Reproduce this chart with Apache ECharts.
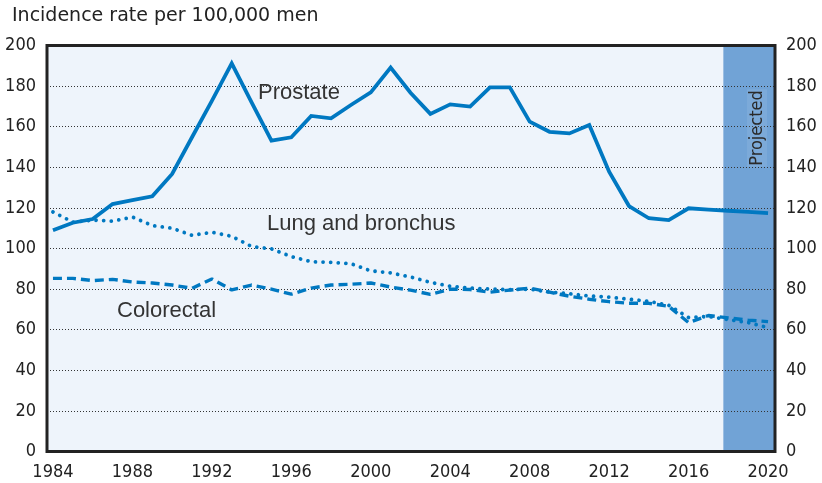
<!doctype html>
<html>
<head>
<meta charset="utf-8">
<title>Incidence rate</title>
<script src="https://cdn.jsdelivr.net/npm/echarts@6/dist/echarts.min.js"></script>
<style>
  html, body { margin: 0; padding: 0; background: #fff; }
  #main { width: 822px; height: 483px; }
</style>
</head>
<body>
<div id="main"></div>
<script>
// years and rates (per 100,000 men)
var years = [1984, 1985, 1986, 1987, 1988, 1989, 1990, 1991, 1992, 1993, 1994, 1995, 1996, 1997, 1998, 1999,
  2000, 2001, 2002, 2003, 2004, 2005, 2006, 2007, 2008, 2009, 2010, 2011, 2012, 2013, 2014, 2015,
  2016, 2017, 2018, 2019, 2020];
var prostate = [109, 112.7, 114.5, 121.9, 123.8, 125.7, 136.7, 154.8, 172.7, 191.2, 172, 153.1, 154.8, 165.3, 164.1, 170.7,
  176.9, 189.1, 176.7, 166.3, 171, 169.9, 179.4, 179.4, 162.5, 157.5, 156.7, 160.8, 137.8, 120.9, 114.9, 114,
  119.8, 119.2, 118.6, 118, 117.4];
var lung = [118, 113, 114, 113.5, 115.5, 111.3, 110, 106.5, 108, 106, 101, 99.8, 96, 93.5, 93.2, 92.5,
  89, 88, 86, 83.3, 81.4, 80.5, 80, 79.7, 80, 78.5, 77.7, 76.6, 76, 75, 74, 72,
  66, 66.5, 65, 63.5, 61];
var colorectal = [85.3, 85.3, 84.2, 84.8, 83.5, 83, 82, 80.4, 85, 79.6, 82, 80, 77.5, 80.5, 82, 82.4,
  83, 81, 79.5, 77.4, 80, 79.8, 78.5, 79.5, 80.5, 78.5, 76.5, 75, 73.8, 73, 73, 71.5,
  63.5, 67, 65.8, 64.7, 64];
var xTicks = [1984, 1988, 1992, 1996, 2000, 2004, 2008, 2012, 2016, 2020];
var projectedFrom = 2017.75;
var xMin = 1983.7, xMax = 2020.35;

function pairs(vals) {
  var out = [];
  for (var i = 0; i < years.length; i++) out.push([years[i], vals[i]]);
  return out;
}

var blue = '#0078c1';
var narrow = "'DejaVu Sans Condensed', sans-serif";
var axisText = { color: '#222', fontSize: 18, fontFamily: narrow };

var myChart = echarts.init(document.getElementById('main'));
var yAxisBase = {
  type: 'value', min: 0, max: 200, interval: 20,
  axisLine: { show: false }, axisTick: { show: false }
};
var option = {
  animation: false,
  backgroundColor: '#fff',
  grid: { left: 47, right: 47, top: 45.5, bottom: 31.5, show: true, backgroundColor: '#eef4fb', borderWidth: 0 },
  xAxis: {
    type: 'value', min: xMin, max: xMax,
    axisLine: { show: false }, axisTick: { show: false }, splitLine: { show: false },
    axisLabel: {
      customValues: xTicks, margin: 12,
      formatter: function (v) { return String(v); },
      color: axisText.color, fontSize: axisText.fontSize, fontFamily: axisText.fontFamily
    }
  },
  yAxis: [
    Object.assign({}, yAxisBase, {
      position: 'left', z: 2,
      axisLabel: { margin: 11, color: axisText.color, fontSize: axisText.fontSize, fontFamily: axisText.fontFamily },
      splitLine: { show: true, lineStyle: { color: '#333', width: 1, type: [1, 2] } }
    }),
    Object.assign({}, yAxisBase, {
      position: 'right',
      axisLabel: { margin: 11, color: axisText.color, fontSize: axisText.fontSize, fontFamily: axisText.fontFamily },
      splitLine: { show: false }
    })
  ],
  series: [
    {
      name: 'Prostate', type: 'line', data: pairs(prostate), z: 3,
      symbol: 'none', lineStyle: { color: blue, width: 3.8, join: 'miter' },
      markArea: {
        silent: true, z: 1,
        itemStyle: { color: '#71a3d6', opacity: 1 },
        data: [[{ xAxis: projectedFrom }, { xAxis: xMax }]]
      }
    },
    {
      name: 'Lung and bronchus', type: 'line', data: pairs(lung), z: 3,
      symbol: 'none', lineStyle: { color: blue, width: 3.8, type: [0.01, 7.6], cap: 'round' }
    },
    {
      name: 'Colorectal', type: 'line', data: pairs(colorectal), z: 3,
      symbol: 'none', lineStyle: { color: blue, width: 3.4, type: [9, 5], cap: 'butt' }
    }
  ],
  graphic: [
    { type: 'rect', z: 100, silent: true,
      shape: { x: 47, y: 45.5, width: 728, height: 406 },
      style: { fill: null, stroke: '#222', lineWidth: 3 } },
    { type: 'text', left: 12, top: 7,
      style: { text: 'Incidence rate per 100,000 men', fill: '#222', font: "19px 'DejaVu Sans', sans-serif" } },
    { type: 'text', x: 258, y: 93, z: 10,
      style: { text: 'Prostate', fill: '#333', font: "22px 'Liberation Sans', sans-serif", verticalAlign: 'middle' } },
    { type: 'text', x: 267, y: 224, z: 10,
      style: { text: 'Lung and bronchus', fill: '#333', font: "22px 'Liberation Sans', sans-serif", verticalAlign: 'middle' } },
    { type: 'text', x: 117, y: 311, z: 10,
      style: { text: 'Colorectal', fill: '#333', font: "22px 'Liberation Sans', sans-serif", verticalAlign: 'middle' } },
    { type: 'text', x: 757, y: 128, rotation: Math.PI / 2, z: 10,
      style: { text: 'Projected', fill: '#2a2a2a', font: "18px 'DejaVu Sans Condensed', sans-serif",
        align: 'center', verticalAlign: 'middle', backgroundColor: 'rgba(255,255,255,0.08)', padding: [1, 1] } }
  ]
};
myChart.setOption(option);
</script>
</body>
</html>
